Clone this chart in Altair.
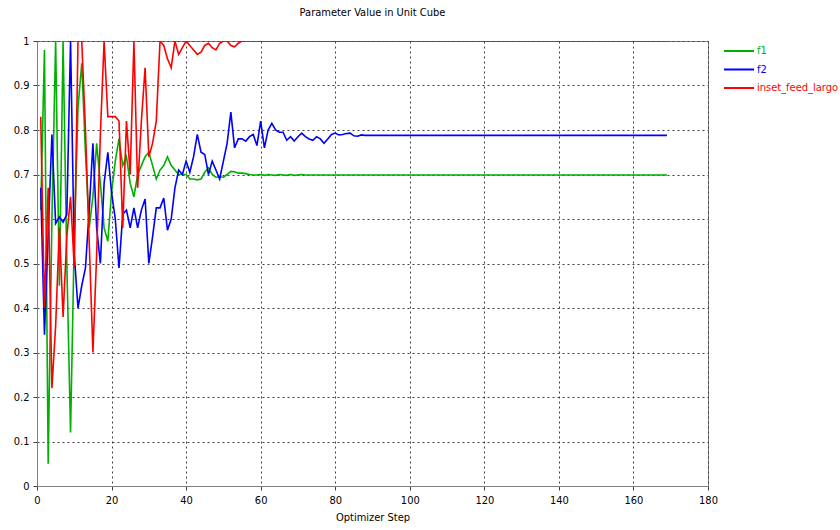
import altair as alt
import pandas as pd

steps = list(range(1, 170))
names = ["f1", "f2", "inset_feed_largo"]
colors = ["#00b000", "#0000ff", "#ff0000"]

f1 = [0.62, 0.98, 0.05, 0.60, 1.0, 0.45, 1.0, 0.50, 0.12, 0.56,
      0.85, 0.95, 0.75, 0.58, 0.65, 0.77, 0.68, 0.58, 0.55, 0.66,
      0.73, 0.78, 0.72, 0.74, 0.68, 0.65, 0.70, 0.72, 0.74, 0.75,
      0.72, 0.69, 0.71, 0.72, 0.74, 0.72, 0.71, 0.70, 0.70, 0.70,
      0.69, 0.69, 0.688, 0.69, 0.705, 0.715, 0.70, 0.694, 0.695, 0.694,
      0.70, 0.707, 0.706, 0.703, 0.703, 0.702, 0.700,
      0.699, 0.699, 0.700, 0.698, 0.700, 0.699, 0.698, 0.700, 0.699, 0.698,
      0.700, 0.698, 0.699, 0.700, 0.699] + [0.699] * 97

f2 = [0.67, 0.34, 0.565, 0.79, 0.59, 0.605, 0.593, 0.61, 1.0, 0.52,
      0.40, 0.45, 0.49, 0.62, 0.77, 0.58, 0.50, 0.68, 0.75, 0.66,
      0.60, 0.49, 0.61, 0.62, 0.58, 0.625, 0.58, 0.62, 0.645, 0.50,
      0.56, 0.625, 0.625, 0.647, 0.575, 0.60, 0.67, 0.71, 0.70, 0.73,
      0.705, 0.74, 0.79, 0.75, 0.745, 0.70, 0.73, 0.71, 0.69, 0.73,
      0.77, 0.84, 0.76, 0.78, 0.78, 0.775, 0.785, 0.79, 0.765, 0.82,
      0.76, 0.80, 0.815, 0.80, 0.795, 0.795, 0.777, 0.785, 0.775, 0.785,
      0.793, 0.785, 0.78, 0.777, 0.785, 0.78, 0.77, 0.78, 0.79, 0.793,
      0.789, 0.79, 0.792, 0.793, 0.787, 0.786, 0.789] + [0.788] * 82

red = [0.83, 0.40, 0.67, 0.22, 0.36, 0.58, 0.38, 0.56, 0.65, 0.49,
       1.0, 1.0, 0.80, 0.55, 0.30, 0.52, 0.79, 1.0, 0.83, 0.83,
       0.83, 0.82, 0.58, 0.82, 0.70, 1.0, 0.67, 0.82, 0.94, 0.74,
       0.77, 0.82, 1.0, 0.99, 0.96, 0.94, 1.0, 0.97, 0.985, 1.0,
       0.99, 0.98, 0.97, 0.975, 0.99, 0.995, 0.985, 0.98, 0.995, 1.0,
       1.0, 0.99, 0.987, 0.995, 1.0] + [1.0] * 114

x_ticks = [0, 20, 40, 60, 80, 100, 120, 140, 160, 180]
y_ticks = [0, 0.1, 0.2, 0.3, 0.4, 0.5, 0.6, 0.7, 0.8, 0.9, 1]

rows = []
for name, vals in zip(names, [f1, f2, red]):
    for s, v in zip(steps, vals):
        rows.append({"step": s, "value": v, "series": name})
df = pd.DataFrame(rows)

FONT = "DejaVu Sans Condensed, DejaVu Sans"

label_color_expr = (
    f"datum.value == '{names[0]}' ? '{colors[0]}' : "
    f"datum.value == '{names[1]}' ? '{colors[1]}' : '{colors[2]}'"
)

chart = alt.Chart(df).mark_line(strokeWidth=1.6, clip=True).encode(
    x=alt.X("step:Q",
            scale=alt.Scale(domain=[0, 180], nice=False, zero=False),
            axis=alt.Axis(values=x_ticks, title="Optimizer Step", format="d",
                          labelFlush=False)),
    y=alt.Y("value:Q",
            scale=alt.Scale(domain=[0, 1], nice=False),
            axis=alt.Axis(values=y_ticks, title=None, format="~g", labelFlush=False)),
    color=alt.Color("series:N",
                    scale=alt.Scale(domain=names, range=colors),
                    sort=names,
                    legend=alt.Legend(
                        title=None, orient="none", legendX=686, legendY=2,
                        symbolType="stroke", symbolSize=900, symbolStrokeWidth=2,
                        labelFontSize=11, labelFont=FONT, labelLimit=400,
                        clipHeight=16, rowPadding=2.5, labelOffset=2,
                        labelColor=alt.ExprRef(label_color_expr),
                    )),
    order=alt.Order("step:Q"),
).properties(
    width=671, height=445,
    title=alt.TitleParams("Parameter Value in Unit Cube", fontSize=11, font=FONT,
                          fontWeight="normal", color="#000000", offset=17, anchor="middle"),
    autosize=alt.AutoSizeParams(type="none"),
    padding={"left": 37, "top": 41, "right": 132, "bottom": 44},
).configure_view(
    stroke="#808080", strokeWidth=1
).configure_axis(
    labelFont=FONT, labelFontSize=11, labelColor="#000000",
    titleFont=FONT, titleFontSize=11, titleFontWeight="normal", titleColor="#000000",
    domainColor="#808080", tickColor="#404040", tickSize=4,
    grid=True, gridColor="#404040", gridDash=[2, 3], gridOpacity=1, gridWidth=1,
).configure_axisX(
    labelPadding=4, titlePadding=6
).configure_axisY(
    labelPadding=4
)

chart.save("out.html", embed_options={"renderer": "svg", "actions": False})
